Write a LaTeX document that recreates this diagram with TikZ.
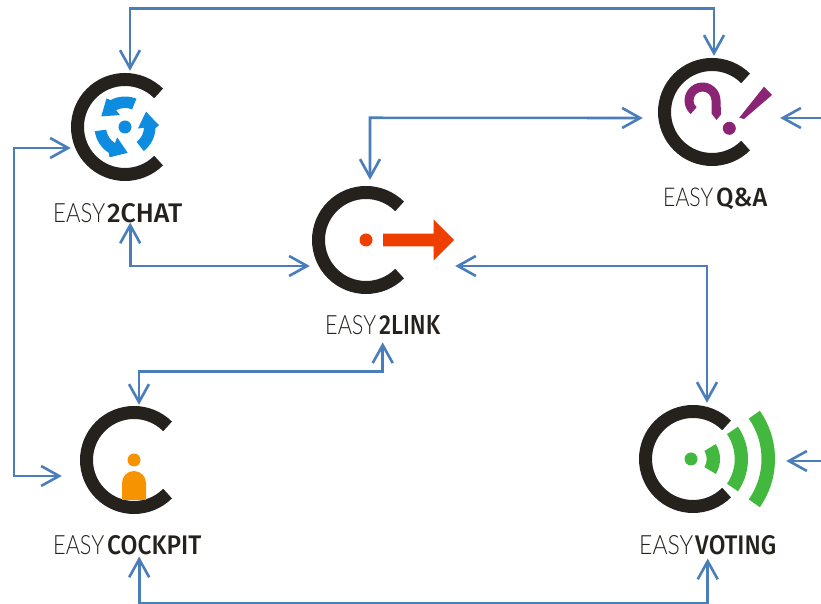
\documentclass[tikz,border=0pt]{standalone}
\usepackage{graphicx}
\usepackage{fontspec}
\usetikzlibrary{arrows.meta}

\newfontfamily\easythin{Lato Light}
\newfontfamily\easybold{Fira Sans Medium}

\definecolor{ringdark}{HTML}{25221E}
\definecolor{linkblue}{HTML}{4A7EBB}
\definecolor{chatblue}{HTML}{0D8CE0}
\definecolor{linkred}{HTML}{EE3E00}
\definecolor{qapurple}{HTML}{8C2476}
\definecolor{cockpitorange}{HTML}{F59300}
\definecolor{votinggreen}{HTML}{43B83F}

% two stretched pieces: thin word, bold word
\newcommand{\easytext}[5]{\resizebox{#1pt}{#2pt}{\easythin EASY}\hspace{#3pt}\resizebox{#4pt}{#2pt}{\easybold #5}}
% the open ring round a logo
\newcommand{\easyring}[1]{\draw[ring] ([shift={(45:47.5)}]#1.center) arc (45:315:47.5);}

\begin{document}
\begin{tikzpicture}[x=1pt, y=1pt]

% Styles for logos, names and connectors
\tikzstyle{logo} = [circle, minimum size=112pt, inner sep=0pt]
\tikzstyle{easyname} = [inner sep=0pt, anchor=base west, text=ringdark]
\tikzstyle{ring} = [draw=ringdark, line width=13pt]
\tikzstyle{link} = [draw=linkblue, line width=2.6pt, {Straight Barb[length=18pt, width=20pt]}-{Straight Barb[length=18pt, width=20pt]}]
\tikzstyle{stub} = [draw=linkblue, line width=2.6pt, -{Straight Barb[length=18pt, width=20pt]}]

\useasboundingbox (0,0) rectangle (821,604);

% Logos
\node[logo] (chat) at (125,477) {};
\node[logo] (qa) at (712,492) {};
\node[logo] (twolink) at (366,364) {};
\node[logo] (cockpit) at (134,144) {};
\node[logo] (voting) at (693,145) {};

% Names
\node[easyname] (chatname) at (53,381) {\easytext{52}{19}{2}{75}{2CHAT}};
\node[easyname] (qaname) at (663,397) {\easytext{50}{18.5}{3}{51}{Q\&A}};
\node[easyname] (twolinkname) at (325,269) {\easytext{51}{19}{3}{61}{2LINK}};
\node[easyname] (cockpitname) at (53,49) {\easytext{51}{19}{3}{94}{COCKPIT}};
\node[easyname] (votingname) at (639,49) {\easytext{54}{19}{2}{81}{VOTING}};

% Free ends on the right border
\coordinate (qaout) at (821,486);
\coordinate (votingout) at (821,143);

\easyring{chat}
\easyring{qa}
\easyring{twolink}
\easyring{cockpit}
\easyring{voting}

% Three arrows of the chat logo
\begin{scope}[shift={(chat.center)}]
\foreach \turn in {0,120,240}{
	\fill[chatblue, rotate=\turn] (68:30.5) arc (68:118:30.5) -- (123:34) -- (156:26) -- (113:13) -- (118:19) arc (118:68:19) -- cycle;
}
\fill[chatblue] (0,0) circle (6.5);
\end{scope}

% Question mark and exclamation mark
\begin{scope}[shift={(qa.center)}]
\fill[qapurple] (17.3,-16.3) circle (6.5);
\fill[qapurple] (52,25.3) -- (60,17) -- (32,-7) -- (27.3,-5.7) -- cycle;
\fill[qapurple, shift={(-9.5,11.5)}] (229:18) arc (229:0:18) -- (18.5,-14) -- (14,-19.5) -- (9,-13) -- (9,0) arc (0:229:9) -- cycle;
\end{scope}

% Arrow of the link logo
\begin{scope}[shift={(twolink.center)}]
\fill[linkred] (0,0) circle (6.5);
\fill[linkred] (17,6.3) -- (67.7,6.3) -- (67.7,20.5) -- (88,0) -- (67.7,-20.5) -- (67.7,-6.3) -- (17,-6.3) -- cycle;
\end{scope}

% Person of the cockpit logo
\begin{scope}[shift={(cockpit.center)}]
\fill[cockpitorange] (0,0) circle (6.5);
\fill[cockpitorange] (-12,-40) -- (-12,-23) arc (180:0:12) -- (12,-40) -- cycle;
\end{scope}

% Waves of the voting logo
\begin{scope}[shift={(voting.center)}, xshift=-2pt]
\fill[votinggreen] (0,0) circle (6.5);
\fill[votinggreen] (-31:15.7) arc (-31:31:15.7) -- (31:29) arc (31:-31:29) -- cycle;
\fill[votinggreen] (-34.5:43.7) arc (-34.5:34.5:43.7) -- (34.5:57) arc (34.5:-34.5:57) -- cycle;
\fill[votinggreen] (-35:70.5) arc (-35:35:70.5) -- (35:84) arc (35:-35:84) -- cycle;
\end{scope}

% Connectors
\draw[link] ([xshift=5pt]chat.north) -- ++(0,62) -| ([xshift=2pt]qa.north);
\draw[link] ([yshift=-21pt, xshift=2pt]chat.west) -- ++(-57,0) |- ([yshift=-16pt, xshift=-16pt]cockpit.west);
\draw[link] ([xshift=4pt, yshift=4pt]twolink.north) -- ++(0,62) -- ([yshift=-6pt, xshift=-13pt]qa.west);
\draw[link] ([xshift=12.5pt, yshift=1pt]chatname.south) |- ([yshift=-26pt]twolink.west);
\draw[link] ([xshift=33pt, yshift=-26pt]twolink.east) -| ([xshift=14pt]voting.north);
\draw[link] ([yshift=-7pt]twolinkname.south) -- ++(0,-29) -| ([xshift=5pt, yshift=-1pt]cockpit.north);
\draw[link] ([xshift=12pt, yshift=-1pt]cockpitname.south) -- ++(0,-47) -| ([yshift=-3pt]votingname.south);
\draw[stub] (qaout) -- ([xshift=12pt, yshift=-6pt]qa.east);
\draw[stub] (votingout) -- ([xshift=37pt, yshift=-2pt]voting.east);
\end{tikzpicture}
\end{document}
